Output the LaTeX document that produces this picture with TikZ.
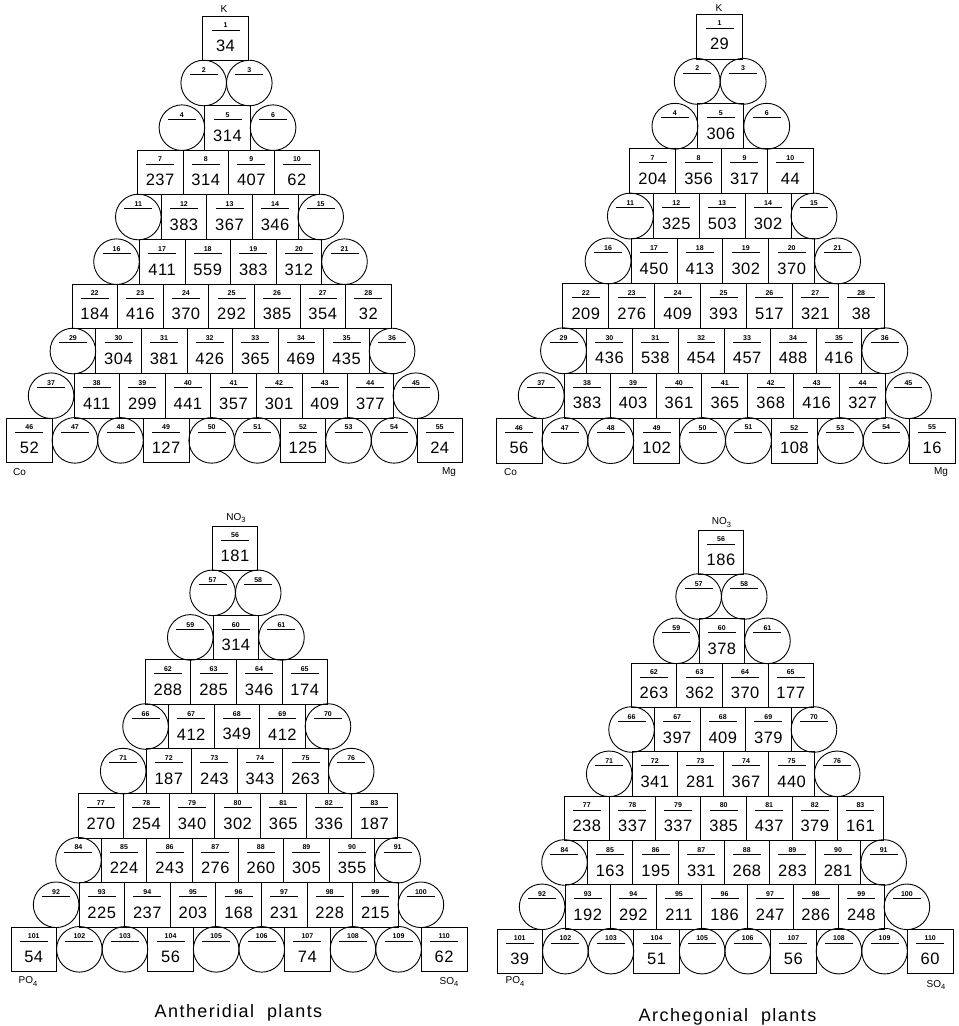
\documentclass[tikz,border=0pt]{standalone}
\usepackage{fontspec}
\setmainfont{Liberation Sans}
\tikzset{
  sqcell/.style={draw, line width=0.8pt, minimum width=\ppx pt, minimum height=\ppy pt, inner sep=0pt, outer sep=0pt},
  circcell/.style={draw, circle, line width=0.9pt, minimum size=\ppx pt, inner sep=0pt, outer sep=0pt},
  idxf/.style={inner sep=0pt, font=\fontsize{7}{8}\selectfont\bfseries},
  valf/.style={inner sep=0pt, font=\fontsize{16.5}{18}\selectfont\addfontfeature{LetterSpace=3}},
  uline/.style={line width=0.8pt},
  elab/.style={inner sep=0pt, font=\fontsize{10}{12}\selectfont},
  capf/.style={inner sep=0pt, font=\fontsize{18}{20}\selectfont\addfontfeature{LetterSpace=8}}
}
% panel setup: cx of row 1, top of row 1, pitch x, pitch y, shift per row, index offset
\newcommand\panelsetup[6]{\def\pcx{#1}\def\pty{#2}\def\ppx{#3}\def\ppy{#4}\def\psh{#5}\def\poff{#6}}
\newcommand\prow[3]{%
  \foreach \v [count=\k] in {#3} {
    \pgfmathsetmacro\xx{\pcx + (#2-1)*\psh + (\k - (#2+1)/2)*\ppx}
    \pgfmathsetmacro\yt{\pty + (#2-1)*\ppy}
    \pgfmathsetmacro\yy{\yt + \ppy/2}
    \pgfmathtruncatemacro\idx{\poff + (#2-1)*#2/2 + \k}
    \ifnum\v=0\relax
      \node[circcell] (#1-\idx) at (\xx,\yy) {};
    \else
      \node[sqcell] (#1-\idx) at (\xx,\yy) {};
      \node[valf] (#1-v\idx) at (\xx,\yt+30) {\v};
    \fi
    \node[idxf] (#1-n\idx) at (\xx,\yt+9.5) {\idx};
    \draw[uline] (\xx-14,\yt+14) -- (\xx+14,\yt+14);
  }%
}
\begin{document}
\begin{tikzpicture}[x=1pt,y=-1pt]
\useasboundingbox (0,0) rectangle (959,1026);

% ---------- top left ----------
\panelsetup{225.5}{16}{45.6}{44.67}{1.0}{0}
\prow{A}{1}{34}
\prow{A}{2}{0,0}
\prow{A}{3}{0,314,0}
\prow{A}{4}{237,314,407,62}
\prow{A}{5}{0,383,367,346,0}
\prow{A}{6}{0,411,559,383,312,0}
\prow{A}{7}{184,416,370,292,385,354,32}
\prow{A}{8}{0,304,381,426,365,469,435,0}
\prow{A}{9}{0,411,299,441,357,301,409,377,0}
\prow{A}{10}{52,0,0,127,0,0,125,0,0,24}
\node[elab] (AK) at (224,9.3) {K};
\node[elab] (ACo) at (19.5,471.7) {Co};
\node[elab] (AMg) at (449,471.7) {Mg};

% ---------- top right ----------
\panelsetup{719.5}{14}{45.9}{44.9}{0.667}{0}
\prow{B}{1}{29}
\prow{B}{2}{0,0}
\prow{B}{3}{0,306,0}
\prow{B}{4}{204,356,317,44}
\prow{B}{5}{0,325,503,302,0}
\prow{B}{6}{0,450,413,302,370,0}
\prow{B}{7}{209,276,409,393,517,321,38}
\prow{B}{8}{0,436,538,454,457,488,416,0}
\prow{B}{9}{0,383,403,361,365,368,416,327,0}
\prow{B}{10}{56,0,0,102,0,0,108,0,0,16}
\node[elab] (BK) at (719,7.7) {K};
\node[elab] (BCo) at (510.5,472) {Co};
\node[elab] (BMg) at (941,472) {Mg};

% ---------- bottom left ----------
\panelsetup{235}{526}{45.6}{44.56}{0.44}{55}
\prow{C}{1}{181}
\prow{C}{2}{0,0}
\prow{C}{3}{0,314,0}
\prow{C}{4}{288,285,346,174}
\prow{C}{5}{0,412,349,412,0}
\prow{C}{6}{0,187,243,343,263,0}
\prow{C}{7}{270,254,340,302,365,336,187}
\prow{C}{8}{0,224,243,276,260,305,355,0}
\prow{C}{9}{0,225,237,203,168,231,228,215,0}
\prow{C}{10}{54,0,0,56,0,0,74,0,0,62}
\node[elab] (CNO) at (236,518) {NO\raisebox{-2.5pt}{\fontsize{7.5}{8}\selectfont 3}};
\node[elab] (CPO) at (28,981.7) {PO\raisebox{-2.5pt}{\fontsize{7.5}{8}\selectfont 4}};
\node[elab] (CSO) at (449,982) {SO\raisebox{-2.5pt}{\fontsize{7.5}{8}\selectfont 4}};
\node[capf] (Ccap) at (238.5,1013) {Antheridial\ \ plants};

% ---------- bottom right ----------
\panelsetup{721}{530}{45.6}{44.33}{0.44}{55}
\prow{D}{1}{186}
\prow{D}{2}{0,0}
\prow{D}{3}{0,378,0}
\prow{D}{4}{263,362,370,177}
\prow{D}{5}{0,397,409,379,0}
\prow{D}{6}{0,341,281,367,440,0}
\prow{D}{7}{238,337,337,385,437,379,161}
\prow{D}{8}{0,163,195,331,268,283,281,0}
\prow{D}{9}{0,192,292,211,186,247,286,248,0}
\prow{D}{10}{39,0,0,51,0,0,56,0,0,60}
\node[elab] (DNO) at (721.5,522.7) {NO\raisebox{-2.5pt}{\fontsize{7.5}{8}\selectfont 3}};
\node[elab] (DPO) at (515,981.7) {PO\raisebox{-2.5pt}{\fontsize{7.5}{8}\selectfont 4}};
\node[elab] (DSO) at (936,985) {SO\raisebox{-2.5pt}{\fontsize{7.5}{8}\selectfont 4}};
\node[capf] (Dcap) at (727.5,1017) {Archegonial\ \ plants};
\end{tikzpicture}
\end{document}
